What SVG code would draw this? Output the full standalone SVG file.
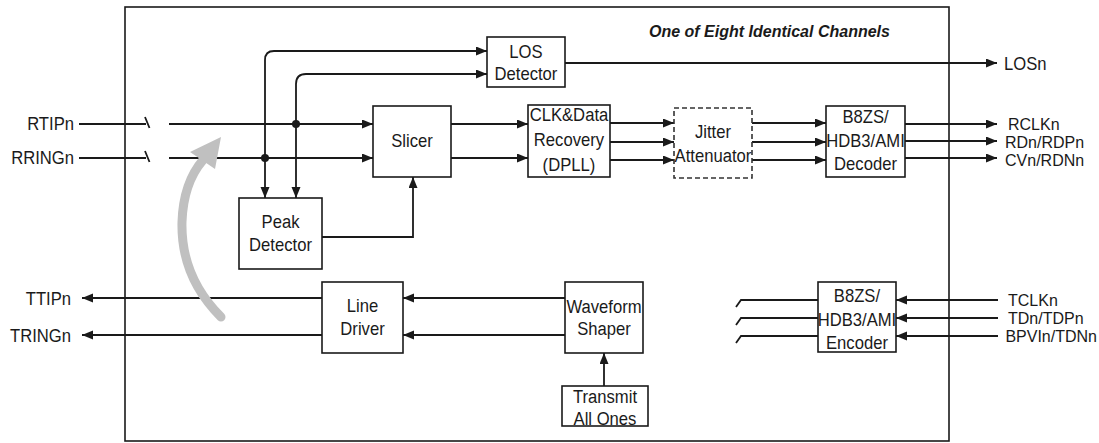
<svg xmlns="http://www.w3.org/2000/svg" width="1099" height="443" viewBox="0 0 1099 443">
<style>
.box{fill:#fff;stroke:#1a1a1a;stroke-width:1.6}
.dash{fill:#fff;stroke:#333;stroke-width:1.6;stroke-dasharray:5,3}
.t{font-family:"Liberation Sans",Arial,sans-serif;font-size:18.5px;fill:#1a1a1a}
.r{font-family:"Liberation Sans",Arial,sans-serif;font-size:16px;fill:#1a1a1a}
.m{text-anchor:middle}
.e{text-anchor:end}
.w{fill:none;stroke:#1a1a1a;stroke-width:1.8}
.a{marker-end:url(#ah)}
.title{font-family:"Liberation Sans",Arial,sans-serif;font-size:16px;font-weight:bold;font-style:italic;fill:#1a1a1a}
</style>
<defs>
<marker id="ah" markerUnits="userSpaceOnUse" markerWidth="12" markerHeight="10" refX="11" refY="4.5" orient="auto">
<path d="M0,0 L11,4.5 L0,9 z" fill="#1a1a1a"/>
</marker>
</defs>
<rect x="125" y="7" width="824" height="434" fill="none" stroke="#1a1a1a" stroke-width="1.6"/>
<text class="title" x="649" y="37">One of Eight Identical Channels</text>

<g id="connectors">
<path class="w" d="M79 124 H146 M145 117 L149.5 128"/>
<path class="w" d="M79 158 H146 M145 151 L149.5 162"/>
<path class="w a" d="M169 124 H373"/>
<path class="w a" d="M169 158 H373"/>
<path class="w a" d="M265 159 V60 Q265 51 274 51 H487"/>
<path class="w a" d="M265 159 V198"/>
<path class="w a" d="M296 124 V84 Q296 74 306 74 H487"/>
<path class="w a" d="M296 124 V198"/>
<circle cx="296" cy="124" r="4" fill="#1a1a1a"/>
<circle cx="265" cy="158" r="4" fill="#1a1a1a"/>
<path class="w a" d="M565 63 H997"/>
<path class="w a" d="M322 237 H413 V177"/>
<path class="w a" d="M451 124 H528"/>
<path class="w a" d="M451 158 H528"/>
<path class="w a" d="M610 123 H674"/>
<path class="w a" d="M610 142 H674"/>
<path class="w a" d="M610 160 H674"/>
<path class="w a" d="M752 123 H826"/>
<path class="w a" d="M752 142 H826"/>
<path class="w a" d="M752 160 H826"/>
<path class="w a" d="M905 124 H997"/>
<path class="w a" d="M905 141 H997"/>
<path class="w a" d="M905 158 H997"/>
<path class="w a" d="M322 298 H82"/>
<path class="w a" d="M322 335 H82"/>
<path class="w a" d="M565 298 H403"/>
<path class="w a" d="M565 335 H403"/>
<path class="w a" d="M604 386 V353"/>
<path class="w a" d="M998 300 H896"/>
<path class="w a" d="M998 318 H896"/>
<path class="w a" d="M998 336 H896"/>
<path class="w" d="M818 300 H741 L736 307"/>
<path class="w" d="M818 318 H741 L736 325"/>
<path class="w" d="M818 336 H741 L736 343"/>
<path d="M221 317 C196 292 181 262 182 222 C183 192 191 174 203 160" fill="none" stroke="#c0c0c0" stroke-width="9" stroke-linecap="round"/>
<polygon points="221,137 190,152 215,169" fill="#c0c0c0"/>
</g>

<g id="pins-left" transform="scale(0.9 1)">
<text class="t e" x="82.2" y="130">RTIPn</text>
<text class="t e" x="82.2" y="164">RRINGn</text>
<text class="t e" x="78.9" y="305">TTIPn</text>
<text class="t e" x="78.9" y="342">TRINGn</text>
<text class="t" x="1115.6" y="70">LOSn</text>
</g>
<g id="pins-right">
<text class="r" x="1008" y="130">RCLKn</text>
<text class="r" x="1005" y="148">RDn/RDPn</text>
<text class="r" x="1005" y="166">CVn/RDNn</text>
<text class="r" x="1008" y="306">TCLKn</text>
<text class="r" x="1008" y="324">TDn/TDPn</text>
<text class="r e" x="1097" y="342">BPVIn/TDNn</text>
</g>

<g id="los">
<rect class="box" x="487" y="37" width="78" height="50"/>
<g transform="scale(0.9 1)">
<text class="t m" x="584.4" y="58">LOS</text>
<text class="t m" x="584.4" y="80">Detector</text>
</g>
</g>
<g id="slicer">
<rect class="box" x="373" y="106" width="78" height="71"/>
<g transform="scale(0.9 1)">
<text class="t m" x="457.8" y="147">Slicer</text>
</g>
</g>
<g id="peak">
<rect class="box" x="239" y="198" width="83" height="71"/>
<g transform="scale(0.9 1)">
<text class="t m" x="311.7" y="228">Peak</text>
<text class="t m" x="311.7" y="251">Detector</text>
</g>
</g>
<g id="cdr">
<rect class="box" x="528" y="105" width="82" height="72"/>
<g transform="scale(0.9 1)">
<text class="t m" x="632.2" y="121">CLK&amp;Data</text>
<text class="t m" x="632.2" y="146">Recovery</text>
<text class="t m" x="632.2" y="171">(DPLL)</text>
</g>
</g>
<g id="jitter">
<rect class="dash" x="674" y="108" width="78" height="70"/>
<g transform="scale(0.9 1)">
<text class="t m" x="792.2" y="138">Jitter</text>
<text class="t m" x="792.2" y="162">Attenuator</text>
</g>
</g>
<g id="decoder">
<rect class="box" x="826" y="106" width="79" height="71"/>
<g transform="scale(0.9 1)">
<text class="t m" x="961.7" y="123">B8ZS/</text>
<text class="t m" x="961.7" y="147">HDB3/AMI</text>
<text class="t m" x="961.7" y="170">Decoder</text>
</g>
</g>
<g id="linedriver">
<rect class="box" x="322" y="282" width="81" height="71"/>
<g transform="scale(0.9 1)">
<text class="t m" x="402.8" y="312">Line</text>
<text class="t m" x="402.8" y="335">Driver</text>
</g>
</g>
<g id="waveform">
<rect class="box" x="565" y="282" width="78" height="71"/>
<g transform="scale(0.9 1)">
<text class="t m" x="671.1" y="313">Waveform</text>
<text class="t m" x="671.1" y="335">Shaper</text>
</g>
</g>
<g id="transmit">
<rect class="box" x="562" y="386" width="86" height="40"/>
<g transform="scale(0.9 1)">
<text class="t m" x="672.2" y="403">Transmit</text>
<text class="t m" x="672.2" y="425">All Ones</text>
</g>
</g>
<g id="encoder">
<rect class="box" x="818" y="282" width="78" height="70"/>
<g transform="scale(0.9 1)">
<text class="t m" x="952.2" y="302">B8ZS/</text>
<text class="t m" x="952.2" y="326">HDB3/AMI</text>
<text class="t m" x="952.2" y="349">Encoder</text>
</g>
</g>
</svg>
